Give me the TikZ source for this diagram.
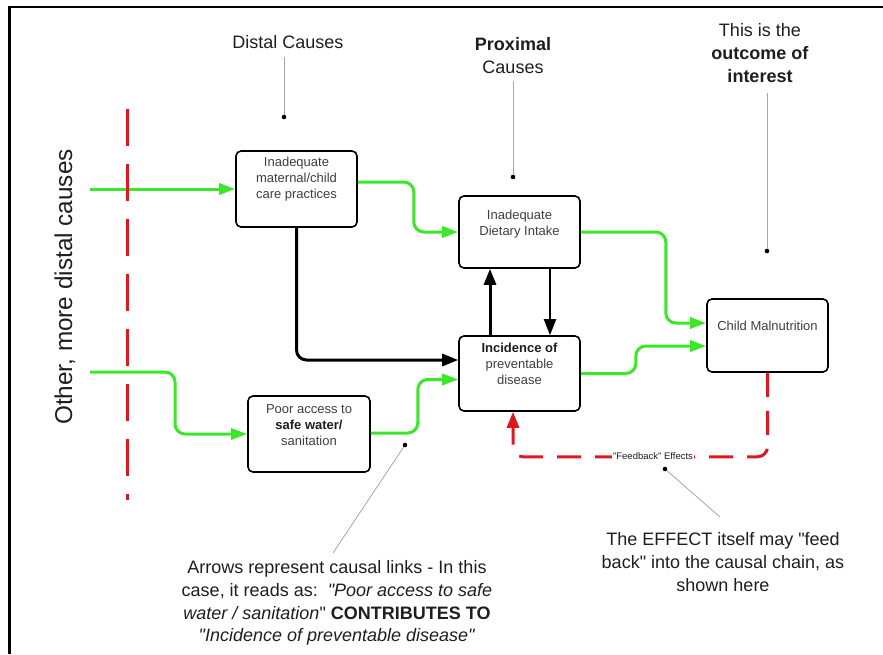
\documentclass[tikz,border=0pt]{standalone}
\usepackage{fontspec}
\setmainfont{Liberation Sans}
\usetikzlibrary{arrows.meta,calc}
\definecolor{linkgreen}{RGB}{60,230,40}
\definecolor{fbred}{RGB}{222,24,32}
\definecolor{boxtext}{RGB}{62,62,62}
\definecolor{notegray}{RGB}{165,165,165}
\definecolor{labeltext}{RGB}{30,30,30}
% straight double quote, unaffected by the TeX ligature mapping
\newcommand{\qmark}{\textquotedbl}

\begin{document}
\begin{tikzpicture}[x=1pt,y=-1pt,
  causebox/.style={draw=black, line width=1.6pt, rounded corners=5pt,
    inner sep=0pt, minimum width=121pt},
  boxlabel/.style={inner sep=0pt, align=center, text=boxtext,
    font=\fontsize{13}{16}\selectfont},
  heading/.style={inner sep=0pt, align=center, text=labeltext,
    font=\fontsize{18}{22.7}\selectfont},
  link/.style={draw=linkgreen, line width=3pt, rounded corners=10pt,
    -{Triangle[length=16pt,width=11pt]}},
  blacklink/.style={draw=black, line width=3pt, rounded corners=10pt,
    -{Triangle[length=16pt,width=12pt]}},
  feedback/.style={draw=fbred, line width=3pt, rounded corners=10pt,
    dash pattern=on 24pt off 14pt, -{Triangle[length=16pt,width=12pt]}},
  pin/.style={circle, fill=black, inner sep=0pt, minimum size=4.6pt},
  leader/.style={draw=notegray, line width=0.8pt},
]
\useasboundingbox (0,0) rectangle (883,654);

% frame edges
\draw[line width=2.6pt] (9.5,654) -- (9.5,6.8) -- (883,6.8);

% cause boxes
\node[causebox, minimum height=76pt] (care)  at (296.5,189) {};
\node[causebox, minimum height=72pt] (diet)  at (519.5,232) {};
\node[causebox, minimum height=75pt] (dis)   at (519.5,373.5) {};
\node[causebox, minimum height=73pt] (mal)   at (767.5,335.5) {};
\node[causebox, minimum height=76pt, minimum width=122pt] (water) at (309,434) {};

\node[boxlabel] (careT)  at (296.5,179) {Inadequate\\maternal/child\\care practices};
\node[boxlabel] (dietT)  at (519.5,224) {Inadequate\\Dietary Intake};
\node[boxlabel] (disT)   at (519.5,364) {\textcolor{labeltext}{\bfseries Incidence of}\\preventable\\disease};
\node[boxlabel] (malT)   at (767.5,326) {Child Malnutrition};
\node[boxlabel] (waterT) at (309,425) {Poor access to\\\textcolor{labeltext}{\bfseries safe water/}\\sanitation};

% incoming causes from the left
\coordinate (in1) at (90,189);
\coordinate (in2) at (90,372);
\draw[link] (in1) -- (care.west);
\draw[link] (in2) -| (175,434) -- (water.west);

% green causal links
\draw[link] ($(care.east)+(0,-7)$) -- ++(56,0) |- (diet.west);
\draw[link] (diet.east) -- ++(85,0) |- ($(mal.west)+(0,-12.5)$);
\draw[link] (dis.east) -- ++(55,0) |- ($(mal.west)+(0,10.5)$);
\draw[link] ($(water.east)+(0,-1)$) -- ++(47,0) |- ($(dis.west)+(0,6)$);

% black causal links
\draw[blacklink] (care.south) |- ($(dis.west)+(0,-13.5)$);
\draw[blacklink] ($(dis.north)+(-29.5,0)$) -- ($(diet.south)+(-29.5,0)$);
\draw[blacklink, line width=2.2pt] ($(diet.south)+(30.5,0)$) -- ($(dis.north)+(30.5,0)$);

% boundary of the more distal causes
\draw[draw=fbred, line width=3pt, dash pattern=on 37pt off 18pt] (127,109) -- (127,500);
\node[heading, rotate=90, anchor=base, inner sep=0pt,
  font=\fontsize{24.3}{28}\selectfont] (other) at (72,287) {Other, more distal causes};

% feedback loop
\draw[feedback] (mal.south) |- ($(dis.south)+(-6.5,45)$) -- ($(dis.south)+(-6.5,0)$);
\node[fill=white, inner sep=1.5pt, text=labeltext,
  font=\fontsize{9.5}{11}\selectfont] (fb) at (653,456) {\qmark Feedback\qmark{} Effects};

% headings with leader lines
\node[heading] (distal) at (288,42) {Distal Causes};
\node[heading] (prox) at (513,55.8) {\textbf{Proximal}\\Causes};
\node[heading] (outc) at (760,53) {This is the\\\textbf{outcome of}\\\textbf{interest}};

\node[pin] (p1) at (284,117) {};
\node[pin] (p2) at (513,177) {};
\node[pin] (p3) at (767,251) {};
\node[pin] (p4) at (405,445) {};
\node[pin] (p5) at (665,469) {};
\coordinate (p1top) at (284,57);
\coordinate (p2top) at (513,81);
\coordinate (p3top) at (767,93);
\coordinate (p4end) at (333,553);
\coordinate (p5end) at (720,517);
\draw[leader] (p1top) -- (p1);
\draw[leader] (p2top) -- (p2);
\draw[leader] (p3top) -- (p3);
\draw[leader] (p4) -- (p4end);
\draw[leader] (p5) -- (p5end);

% explanatory notes
\node[heading] (expl) at (337,603) {Arrows represent causal links - In this\\
  case, it reads as:\ \ \textit{\qmark Poor access to safe}\\
  \textit{water / sanitation}\qmark{} \textbf{CONTRIBUTES TO}\\
  \textit{\qmark Incidence of preventable disease\qmark}};
\node[heading] (effect) at (723,562) {The EFFECT itself may \qmark feed\\
  back\qmark{} into the causal chain, as\\shown here};
\end{tikzpicture}
\end{document}
